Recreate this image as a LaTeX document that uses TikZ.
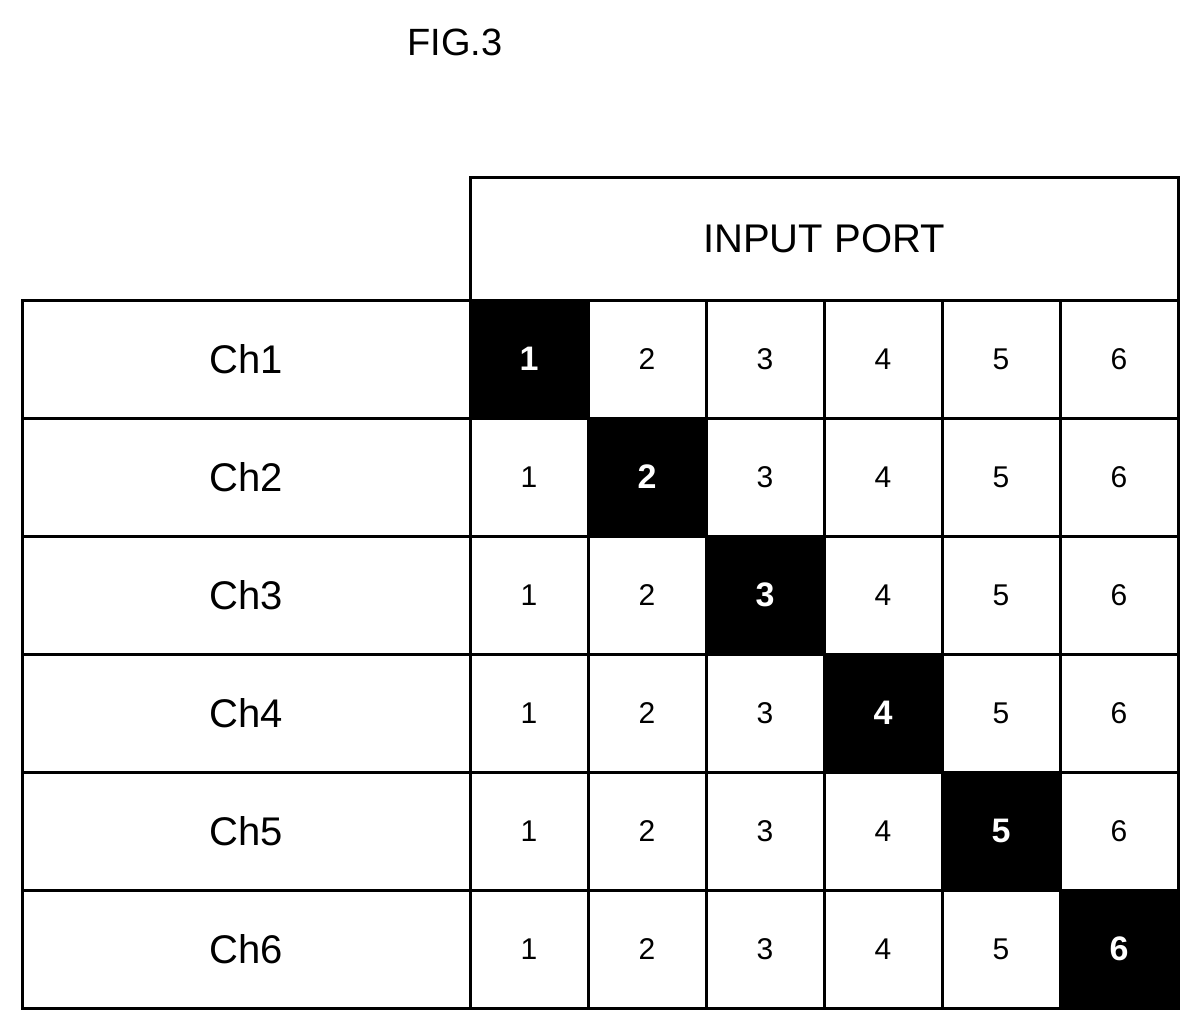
\documentclass[tikz,border=0pt]{standalone}
\usepackage{fontspec}
\setmainfont{Liberation Sans}
\begin{document}
\begin{tikzpicture}[x=1pt, y=-1pt, line width=3pt,
    cell/.style={draw, minimum width=118pt, minimum height=118pt, inner sep=0pt, font=\fontsize{30}{34}\selectfont},
    hot/.style={cell, fill=black, text=white, font=\fontsize{34}{38}\selectfont\bfseries},
    chan/.style={draw, minimum width=448pt, minimum height=118pt, inner sep=0pt, font=\fontsize{40}{44}\selectfont}]
    \useasboundingbox (0,0) rectangle (1202,1033);
    % title
    \node[font=\fontsize{38}{42}\selectfont] (title) at (455,42) {FIG.3};
    % header
    \node[draw, minimum width=708pt, minimum height=123pt, inner sep=0pt, font=\fontsize{40}{44}\selectfont] (port) at (824,238.5) {INPUT PORT};
    % rows of channels and ports
    \foreach \r in {1,...,6}{
        \node[chan] (ch\r) at (246,{300+118*(\r-1)+59}) {Ch\r};
        \foreach \c in {1,...,6}{
            \ifnum\c=\r
                \node[hot] (p\r\c) at ({470+118*(\c-1)+59},{300+118*(\r-1)+59}) {\c};
            \else
                \node[cell] (p\r\c) at ({470+118*(\c-1)+59},{300+118*(\r-1)+59}) {\c};
            \fi
        }
    }
\end{tikzpicture}
\end{document}
